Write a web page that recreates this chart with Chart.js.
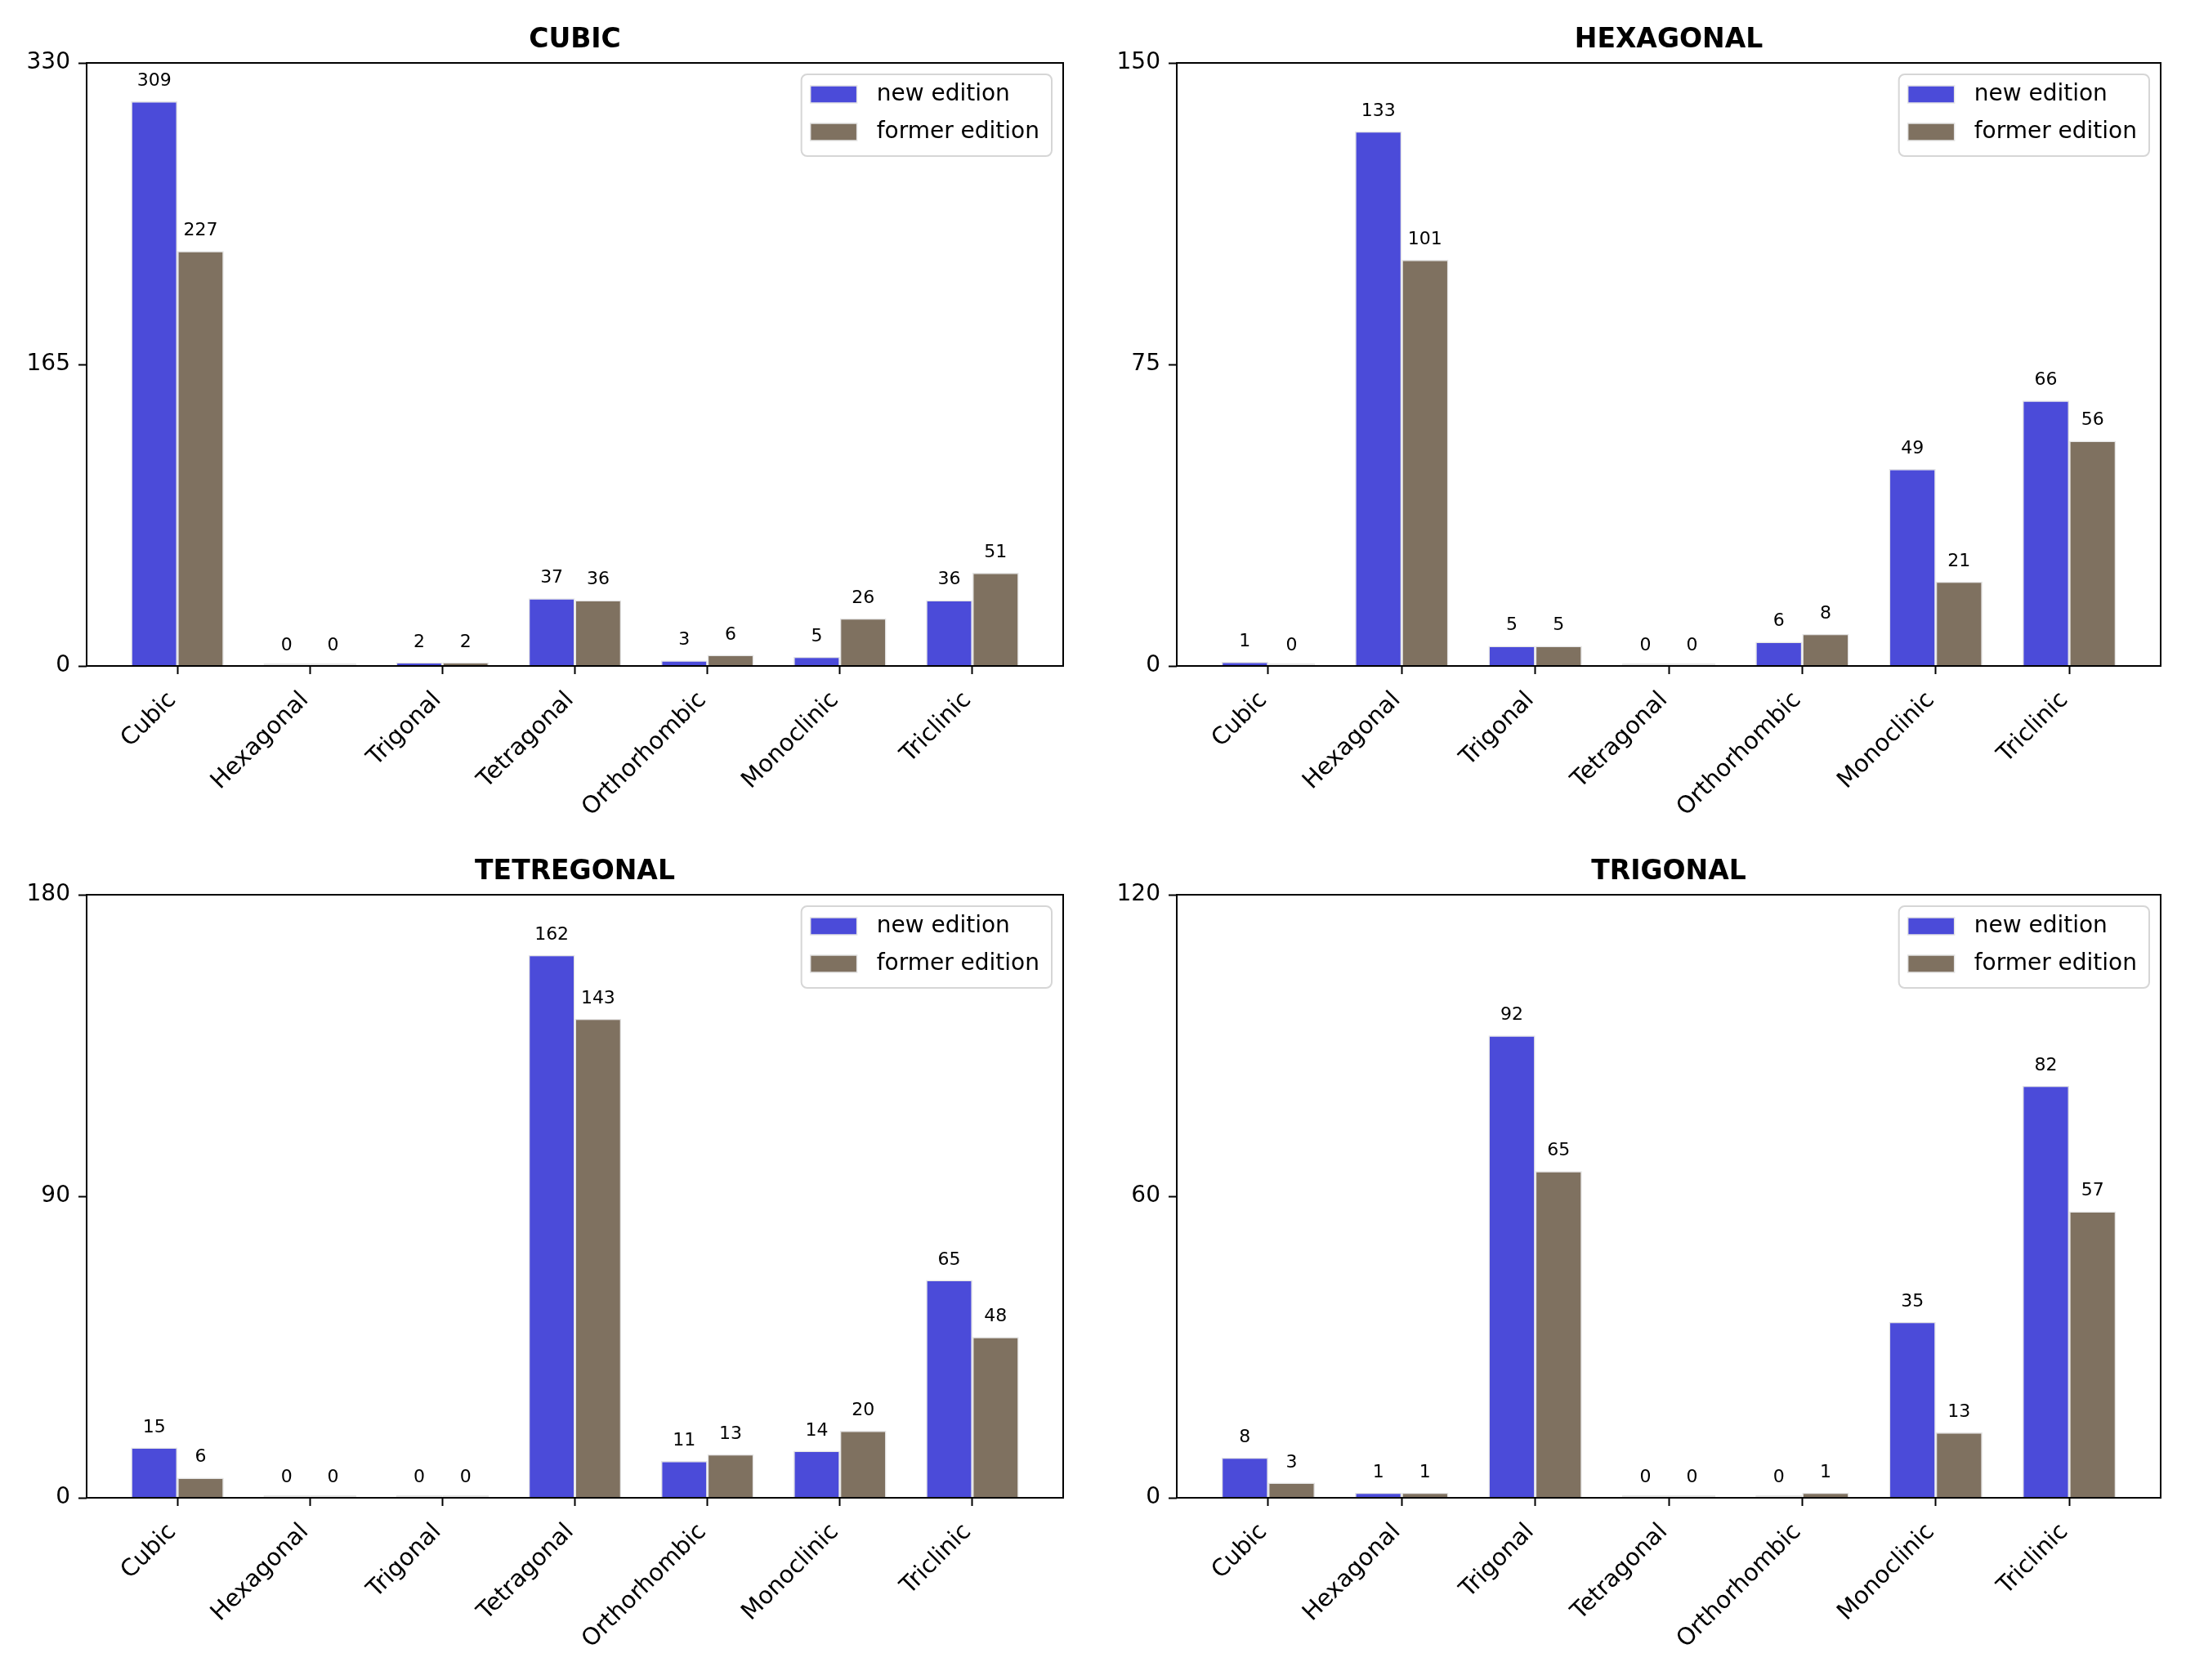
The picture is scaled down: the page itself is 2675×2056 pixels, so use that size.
<!DOCTYPE html>
<html><head><meta charset="utf-8">
<script src="https://cdn.jsdelivr.net/npm/chart.js@4.4.0/dist/chart.umd.min.js"></script>
<style>
html,body{margin:0;padding:0;background:#fff;width:2675px;height:2056px;overflow:hidden}
canvas{position:absolute}
</style></head><body>
<canvas id="c0"></canvas><canvas id="c1"></canvas><canvas id="c2"></canvas><canvas id="c3"></canvas>
<script>
// ---- data ----
const categories = ['Cubic','Hexagonal','Trigonal','Tetragonal','Orthorhombic','Monoclinic','Triclinic'];
const seriesNames = ['new edition','former edition'];
const panelTitles = ['CUBIC','HEXAGONAL','TETREGONAL','TRIGONAL'];
const cubicNew = [309,0,2,37,3,5,36];
const cubicFormer = [227,0,2,36,6,26,51];
const hexagonalNew = [1,133,5,0,6,49,66];
const hexagonalFormer = [0,101,5,0,8,21,56];
const tetragonalNew = [15,0,0,162,11,14,65];
const tetragonalFormer = [6,0,0,143,13,20,48];
const trigonalNew = [8,1,92,0,0,35,82];
const trigonalFormer = [3,1,65,0,1,13,57];
const yMaxes = [330,150,180,120];
const yTickValues = [[0,165,330],[0,75,150],[0,90,180],[0,60,120]];

const panelNew = [cubicNew, hexagonalNew, tetragonalNew, trigonalNew];
const panelFormer = [cubicFormer, hexagonalFormer, tetragonalFormer, trigonalFormer];

// ---- layout / style ----
const FONT = "'DejaVu Sans', sans-serif";
const BLUE = '#4b4bd9';
const BROWN = '#7f7160';
const ZERO = '#e0e0e0';
const EDGE = '#e4e4e4';
const layouts = [
  {x:0,    y:0,    w:1338, h:1028, L:106, R:1301, T:77, B:815, ty:49},
  {x:1338, y:0,    w:1337, h:1028, L:102, R:1306, T:77, B:815, ty:49},
  {x:0,    y:1028, w:1338, h:1028, L:106, R:1301, T:67, B:805, ty:39},
  {x:1338, y:1028, w:1337, h:1028, L:102, R:1306, T:67, B:805, ty:39}
];

const framePlugin = {
  id:'frame',
  afterDatasetsDraw(chart){
    const {ctx, chartArea:a} = chart;
    ctx.save();
    ctx.strokeStyle = '#000'; ctx.lineWidth = 2;
    ctx.strokeRect(a.left, a.top, a.right - a.left, a.bottom - a.top);
    // bar value labels
    const ys = chart.scales.y;
    ctx.fillStyle = '#000';
    ctx.font = `22px ${FONT}`;
    ctx.textAlign = 'center'; ctx.textBaseline = 'alphabetic';
    chart.data.datasets.forEach((ds, di) => {
      const meta = chart.getDatasetMeta(di);
      meta.data.forEach((el, i) => {
        const v = ds.data[i].y;
        ctx.fillText(String(v), el.x, ys.getPixelForValue(v) - 19);
      });
    });
    ctx.restore();
  },
  afterDraw(chart){
    const {ctx, chartArea:a} = chart;
    const fs = 28;
    ctx.save();
    ctx.font = `${fs}px ${FONT}`;
    let tw = 0;
    chart.data.datasets.forEach(ds => { tw = Math.max(tw, ctx.measureText(ds.label).width); });
    const w = 11 + 57 + 26 + tw + 13, h = 100;
    const x = a.right - 14 - w, y = a.top + 14;
    const r = 7;
    ctx.beginPath();
    ctx.moveTo(x + r, y); ctx.lineTo(x + w - r, y); ctx.arcTo(x + w, y, x + w, y + r, r);
    ctx.lineTo(x + w, y + h - r); ctx.arcTo(x + w, y + h, x + w - r, y + h, r);
    ctx.lineTo(x + r, y + h); ctx.arcTo(x, y + h, x, y + h - r, r);
    ctx.lineTo(x, y + r); ctx.arcTo(x, y, x + r, y, r); ctx.closePath();
    ctx.fillStyle = 'rgba(255,255,255,0.8)'; ctx.fill();
    ctx.strokeStyle = '#d6d6d6'; ctx.lineWidth = 2; ctx.stroke();
    chart.data.datasets.forEach((ds, i) => {
      const cy = y + 24 + i * 46;
      ctx.fillStyle = ds.legendColor;
      ctx.fillRect(x + 11, cy - 10, 57, 21);
      ctx.strokeStyle = EDGE; ctx.lineWidth = 1.5;
      ctx.strokeRect(x + 11, cy - 10, 57, 21);
      ctx.fillStyle = '#000'; ctx.textAlign = 'left'; ctx.textBaseline = 'middle';
      ctx.fillText(ds.label, x + 92, cy + 1);
    });
    ctx.restore();
  }
};

layouts.forEach((lay, p) => {
  const cv = document.getElementById('c' + p);
  cv.width = lay.w; cv.height = lay.h;
  cv.style.left = lay.x + 'px'; cv.style.top = lay.y + 'px';
  cv.style.width = lay.w + 'px'; cv.style.height = lay.h + 'px';
  const mk = (arr, label, color) => ({
    label,
    legendColor: color,
    data: categories.map((c, i) => ({x: i, y: arr[i]})),
    backgroundColor: ctx => (ctx.raw && ctx.raw.y === 0) ? ZERO : color,
    borderColor: EDGE,
    borderWidth: 1.5,
    borderSkipped: 'bottom',
    minBarLength: 3,
    categoryPercentage: 0.7,
    barPercentage: 1.0
  });
  const ticksVals = yTickValues[p];
  new Chart(cv, {
    type: 'bar',
    data: {
      datasets: [
        mk(panelNew[p], seriesNames[0], BLUE),
        mk(panelFormer[p], seriesNames[1], BROWN)
      ]
    },
    options: {
      responsive: false,
      animation: false,
      devicePixelRatio: 1,
      layout: {padding: {left: 0, right: lay.w - lay.R, top: 0, bottom: 0}},
      plugins: {
        legend: {display: false},
        tooltip: {enabled: false},
        title: {
          display: true, text: panelTitles[p], fullSize: false,
          color: '#000',
          font: {family: FONT, size: 33, weight: 'bold', lineHeight: 1.2},
          padding: {top: lay.ty - 19.8, bottom: lay.T - lay.ty - 19.8}
        }
      },
      scales: {
        x: {
          type: 'linear', min: -0.685, max: 6.685, offset: false,
          afterBuildTicks: s => { s.ticks = categories.map((c, i) => ({value: i})); },
          afterFit: s => { s.height = lay.h - lay.B; },
          border: {display: false},
          grid: {display: true, offset: false, drawOnChartArea: false, drawTicks: true, tickLength: 10, tickColor: '#000', tickWidth: 2},
          ticks: {
            autoSkip: false, minRotation: 45, maxRotation: 45, padding: 15, labelOffset: -6,
            color: '#000', font: {family: FONT, size: 29},
            callback: v => categories[v]
          }
        },
        y: {
          type: 'linear', min: 0, max: yMaxes[p],
          afterBuildTicks: s => { s.ticks = ticksVals.map(v => ({value: v})); },
          afterFit: s => { s.width = lay.L; },
          border: {display: false},
          grid: {display: true, drawOnChartArea: false, drawTicks: true, tickLength: 10, tickColor: '#000', tickWidth: 2},
          ticks: {padding: 10, color: '#000', font: {family: FONT, size: 28}}
        }
      }
    },
    plugins: [framePlugin]
  });
});
</script>
</body></html>
